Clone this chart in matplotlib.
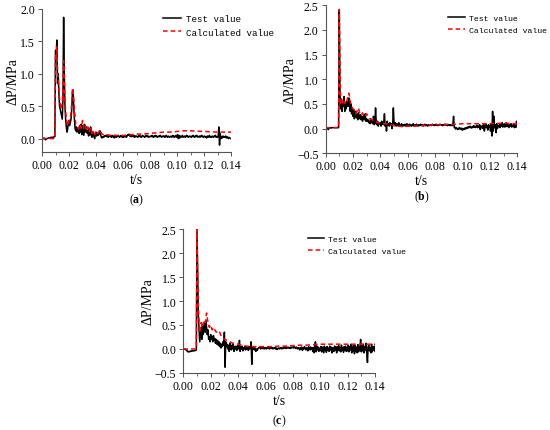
import numpy as np
import matplotlib
matplotlib.use("Agg")
import matplotlib.pyplot as plt

plt.rcParams["font.family"] = "Liberation Serif"
plt.rcParams["mathtext.fontset"] = "custom"
plt.rcParams["mathtext.rm"] = "Liberation Serif"
plt.rcParams["mathtext.bf"] = "Liberation Serif:bold"

# measured pressure difference, one value every 0.0005 s from 0 to 0.14 s
test_a = [
    0.00, 0.00, 0.00, 0.01, 0.00, -0.02, -0.01, 0.00, 0.00, 0.01, 0.01, 0.01, 0.01, 0.02, 0.02, 0.02, 0.02, 0.02, 0.03, 0.03,
    1.36, 1.30, 1.52, 0.85, 1.00, 0.70, 0.50, 0.45, 0.40, 0.35, 0.30, 0.60, 1.87, 1.00, 0.50, 0.30, 0.18, 0.10, 0.15, 0.25,
    0.28, 0.20, 0.25, 0.30, 0.45, 0.70, 0.75, 0.50, 0.30, 0.15, 0.12, 0.18, 0.10, 0.15, 0.12, 0.08, 0.20, 0.10, 0.22, 0.06,
    0.20, 0.12, 0.05, 0.22, 0.10, 0.15, 0.18, 0.08, 0.12, 0.04, 0.15, 0.06, 0.18, 0.05, 0.02, 0.08, 0.10, 0.03, 0.00, 0.06,
    0.10, 0.04, 0.07, 0.05, 0.06, 0.10, 0.12, 0.05, 0.02, 0.01, 0.03, 0.02, 0.04, 0.03, 0.05, 0.04, 0.03, 0.05, 0.02, 0.04,
    0.05, 0.03, 0.04, 0.02, 0.05, 0.03, 0.04, 0.01, 0.03, 0.04, 0.02, 0.04, 0.03, 0.05, 0.03, 0.02, 0.04, 0.05, 0.03, 0.02,
    0.03, 0.02, 0.04, 0.03, 0.05, 0.02, 0.04, 0.06, 0.05, 0.07, 0.04, 0.06, 0.03, 0.05, 0.04, 0.03, 0.05, 0.02, 0.04, 0.03,
    0.04, 0.03, 0.02, 0.04, 0.05, 0.03, 0.04, 0.02, 0.03, 0.05, 0.04, 0.03, 0.02, 0.04, 0.03, 0.05, 0.03, 0.04, 0.02, 0.03,
    0.03, 0.04, 0.03, 0.05, 0.03, 0.02, 0.04, 0.03, 0.05, 0.03, 0.04, 0.02, 0.03, 0.04, 0.03, 0.05, 0.04, 0.02, 0.03, 0.04,
    0.03, 0.04, 0.02, 0.03, 0.05, 0.03, 0.02, 0.04, 0.03, 0.02, 0.03, 0.04, 0.02, 0.03, 0.05, 0.03, 0.02, 0.04, 0.03, 0.05,
    0.02, 0.06, 0.00, 0.05, 0.01, 0.04, 0.02, 0.03, 0.05, 0.02, 0.03, 0.04, 0.02, 0.03, 0.05, 0.03, 0.04, 0.02, 0.03, 0.04,
    0.03, 0.02, 0.04, 0.03, 0.05, 0.03, 0.02, 0.04, 0.03, 0.05, 0.04, 0.02, 0.03, 0.04, 0.02, 0.03, 0.05, 0.03, 0.04, 0.02,
    0.03, 0.04, 0.02, 0.03, 0.01, 0.04, 0.02, 0.03, 0.05, 0.02, 0.03, 0.02, 0.04, 0.03, 0.02, 0.04, 0.03, 0.05, 0.02, 0.03,
    0.02, 0.04, 0.18, -0.10, 0.08, 0.00, 0.03, 0.01, 0.04, 0.02, 0.03, 0.02, 0.04, 0.01, 0.03, 0.02, 0.00, 0.02, 0.01, 0.00,
    0.00,
]

test_b = [
    0.02, 0.02, 0.01, 0.00, -0.02, 0.01, 0.02, 0.02, 0.01, 0.02, 0.02, 0.02, 0.02, 0.02, 0.02, 0.02, 0.02, 0.02, 0.02, 0.02,
    2.40, 0.80, 0.40, 0.60, 0.35, 0.55, 0.45, 0.65, 0.35, 0.50, 0.40, 0.55, 0.48, 0.45, 0.62, 0.55, 0.35, 0.50, 0.30, 0.40,
    0.25, 0.38, 0.20, 0.30, 0.35, 0.22, 0.30, 0.18, 0.32, 0.25, 0.20, 0.28, 0.18, 0.25, 0.15, 0.22, 0.28, 0.18, 0.30, 0.15,
    0.20, 0.15, 0.18, 0.12, 0.15, 0.10, 0.20, 0.12, 0.15, 0.10, 0.25, 0.08, 0.10, 0.42, 0.12, 0.08, 0.15, 0.05, 0.12, 0.10,
    0.12, 0.05, 0.15, 0.10, 0.08, 0.12, 0.30, 0.05, 0.10, -0.05, 0.15, 0.08, 0.10, 0.05, 0.12, 0.08, 0.10, 0.00, 0.08, 0.42,
    0.10, 0.08, 0.12, 0.05, 0.10, 0.06, 0.08, 0.12, 0.05, 0.08, 0.06, 0.10, 0.07, 0.05, 0.08, 0.06, 0.09, 0.05, 0.08, 0.10,
    0.06, 0.08, 0.05, 0.09, 0.07, 0.05, 0.08, 0.06, 0.10, 0.07, 0.05, 0.08, 0.06, 0.09, 0.07, 0.05, 0.08, 0.06, 0.07, 0.09,
    0.07, 0.06, 0.08, 0.05, 0.07, 0.09, 0.06, 0.08, 0.07, 0.05, 0.08, 0.06, 0.07, 0.08, 0.06, 0.07, 0.09, 0.07, 0.08, 0.06,
    0.08, 0.07, 0.09, 0.07, 0.06, 0.08, 0.07, 0.09, 0.08, 0.07, 0.08, 0.06, 0.08, 0.07, 0.09, 0.08, 0.07, 0.08, 0.06, 0.08,
    0.07, 0.08, 0.06, 0.08, 0.07, 0.06, 0.08, 0.25, 0.02, 0.03, -0.01, 0.02, 0.00, -0.02, 0.01, -0.01, 0.02, 0.00, -0.02, 0.01,
    -0.03, 0.00, -0.02, 0.01, -0.01, 0.02, 0.00, 0.03, 0.01, 0.04, 0.02, 0.05, 0.03, 0.01, 0.04, 0.02, 0.06, 0.03, 0.05, 0.02,
    0.04, 0.07, 0.02, 0.05, 0.03, 0.08, -0.02, 0.05, 0.02, 0.06, 0.00, 0.08, -0.05, 0.04, 0.10, 0.02, 0.06, -0.03, 0.08, 0.03,
    0.05, -0.05, 0.10, -0.15, 0.35, -0.05, 0.25, 0.02, 0.08, -0.08, 0.10, 0.00, 0.06, 0.04, 0.08, 0.02, 0.10, 0.05, 0.12, 0.03,
    0.06, 0.10, 0.03, 0.08, 0.12, 0.04, 0.10, 0.06, 0.02, 0.08, 0.05, 0.10, 0.03, 0.07, 0.04, 0.09, 0.02, 0.06, 0.03, 0.15,
    0.04,
]

test_c = [
    0.00, 0.00, 0.00, -0.01, -0.02, -0.03, -0.05, -0.06, -0.05, -0.06, -0.05, -0.04, -0.05, -0.04, -0.04, -0.03, -0.04, -0.03, -0.03, -0.02,
    2.45, 1.60, 0.70, 0.40, 0.15, 0.30, 0.45, 0.20, 0.50, 0.30, 0.40, 0.55, 0.35, 0.60, 0.45, 0.30, 0.40, 0.20, 0.25, 0.15,
    0.30, 0.20, 0.25, 0.15, 0.28, 0.18, 0.22, 0.12, 0.20, 0.10, 0.18, 0.08, 0.15, 0.05, 0.12, 0.02, 0.10, 0.05, 0.15, 0.08,
    0.35, -0.38, 0.15, 0.05, 0.10, 0.00, 0.08, -0.05, 0.12, 0.03, -0.02, 0.08, 0.00, 0.10, -0.05, 0.05, 0.00, 0.06, -0.03, 0.02,
    0.08, 0.00, 0.18, -0.05, 0.05, 0.00, 0.06, -0.04, 0.03, 0.00, 0.05, -0.02, 0.04, 0.00, 0.03, -0.03, 0.05, 0.00, 0.02, 0.15,
    -0.32, 0.05, 0.00, 0.03, -0.02, 0.02, -0.05, 0.00, -0.03, 0.01, 0.02, 0.04, 0.03, 0.00, 0.02, 0.05, 0.01, 0.03, 0.00, 0.02,
    0.03, 0.00, 0.02, 0.04, 0.01, 0.03, 0.00, 0.02, 0.04, 0.01, 0.03, 0.00, 0.02, 0.01, 0.03, 0.00, 0.02, -0.01, 0.01, 0.02,
    0.00, 0.02, 0.01, 0.03, 0.00, 0.02, 0.01, 0.03, 0.02, 0.04, 0.01, 0.03, 0.02, 0.04, 0.02, 0.03, 0.01, 0.04, 0.02, 0.03,
    0.04, 0.02, 0.05, 0.03, 0.01, 0.04, 0.02, 0.00, 0.03, 0.01, -0.02, 0.03, 0.00, 0.04, -0.03, 0.02, 0.00, 0.05, 0.01, -0.02,
    0.03, 0.00, -0.04, 0.05, 0.01, -0.02, 0.04, 0.00, 0.03, -0.05, 0.03, -0.08, 0.05, 0.15, -0.06, 0.06, -0.02, 0.04, -0.05, 0.02,
    -0.03, 0.05, -0.06, 0.04, 0.00, -0.08, 0.06, -0.02, 0.03, -0.07, 0.05, -0.03, 0.02, -0.05, 0.06, -0.02, 0.04, -0.08, 0.03, 0.00,
    -0.05, 0.06, -0.02, 0.04, -0.08, 0.05, -0.03, 0.07, -0.04, 0.02, -0.06, 0.08, -0.02, 0.03, -0.07, 0.05, -0.03, 0.06, -0.05, 0.02,
    -0.04, 0.08, -0.06, 0.05, -0.02, 0.10, -0.08, 0.06, -0.04, 0.08, -0.10, 0.07, -0.05, 0.04, -0.08, 0.09, -0.06, 0.05, -0.03, 0.20,
    -0.06, 0.08, -0.04, 0.10, -0.08, 0.05, -0.02, 0.12, -0.10, -0.28, 0.05, 0.08, -0.04, 0.03, -0.08, 0.10, -0.06, 0.04, -0.02, 0.06,
    -0.05,
]

# calculated curves as (t, dP) points
calc_a = [
    (0.0, 0.0), (0.0095, 0.0), (0.010, 1.30), (0.0105, 1.25), (0.011, 1.42), (0.0115, 1.00), (0.012, 0.90),
    (0.013, 0.60), (0.014, 0.45), (0.015, 0.55), (0.0155, 0.80), (0.016, 1.20), (0.0165, 0.90), (0.017, 0.55),
    (0.018, 0.30), (0.019, 0.20), (0.020, 0.28), (0.021, 0.30), (0.022, 0.55), (0.0225, 0.78), (0.023, 0.75),
    (0.024, 0.45), (0.025, 0.22), (0.026, 0.20), (0.027, 0.15), (0.028, 0.22), (0.029, 0.16), (0.030, 0.28),
    (0.031, 0.15), (0.032, 0.20), (0.033, 0.12), (0.034, 0.18), (0.035, 0.10), (0.036, 0.16), (0.037, 0.08),
    (0.038, 0.12), (0.039, 0.06), (0.040, 0.12), (0.041, 0.08), (0.042, 0.10), (0.043, 0.14), (0.044, 0.08),
    (0.046, 0.05), (0.048, 0.06), (0.050, 0.05), (0.052, 0.06), (0.055, 0.05), (0.058, 0.04), (0.060, 0.05),
    (0.063, 0.05), (0.066, 0.06), (0.070, 0.07), (0.075, 0.07), (0.080, 0.08), (0.085, 0.09), (0.090, 0.10),
    (0.095, 0.10), (0.100, 0.11), (0.105, 0.12), (0.110, 0.12), (0.120, 0.11), (0.130, 0.10), (0.140, 0.10),
]

calc_b = [
    (0.0, 0.02), (0.0095, 0.02), (0.010, 2.42), (0.0105, 1.20), (0.011, 0.50), (0.012, 0.58), (0.013, 0.48),
    (0.014, 0.55), (0.015, 0.50), (0.016, 0.62), (0.017, 0.72), (0.018, 0.55), (0.019, 0.45), (0.020, 0.40),
    (0.021, 0.38), (0.022, 0.30), (0.023, 0.35), (0.024, 0.42), (0.025, 0.30), (0.026, 0.28), (0.027, 0.32),
    (0.028, 0.24), (0.029, 0.26), (0.030, 0.30), (0.032, 0.20), (0.034, 0.18), (0.036, 0.15), (0.038, 0.12),
    (0.040, 0.12), (0.042, 0.10), (0.045, 0.10), (0.048, 0.08), (0.050, 0.06), (0.053, 0.05), (0.056, 0.04),
    (0.060, 0.05), (0.065, 0.05), (0.070, 0.06), (0.075, 0.07), (0.080, 0.08), (0.085, 0.08), (0.090, 0.09),
    (0.095, 0.09), (0.100, 0.10), (0.110, 0.10), (0.120, 0.10), (0.130, 0.11), (0.140, 0.10),
]

calc_c = [
    (0.0, 0.0), (0.009, 0.0), (0.0095, 0.0), (0.010, 2.50), (0.0105, 1.40), (0.011, 0.80), (0.012, 0.35),
    (0.013, 0.55), (0.014, 0.45), (0.015, 0.60), (0.016, 0.55), (0.017, 0.75), (0.018, 0.55), (0.019, 0.45),
    (0.020, 0.50), (0.021, 0.40), (0.022, 0.45), (0.024, 0.35), (0.026, 0.38), (0.028, 0.25), (0.030, 0.20),
    (0.032, 0.18), (0.034, 0.15), (0.036, 0.12), (0.038, 0.12), (0.040, 0.10), (0.043, 0.08), (0.046, 0.06),
    (0.050, 0.05), (0.055, 0.05), (0.060, 0.05), (0.065, 0.05), (0.070, 0.06), (0.075, 0.06), (0.080, 0.07),
    (0.085, 0.08), (0.090, 0.08), (0.095, 0.09), (0.100, 0.10), (0.110, 0.10), (0.120, 0.10), (0.130, 0.10),
    (0.140, 0.10),
]

xticks = [0.00, 0.02, 0.04, 0.06, 0.08, 0.10, 0.12, 0.14]
yticks_a = [0.0, 0.5, 1.0, 1.5, 2.0]
yticks_bc = [-0.5, 0.0, 0.5, 1.0, 1.5, 2.0, 2.5]

panels = [
    # rect, test, calc, ylim, yticks, tag, tag y (axes frac), legend anchor (fig coords), legend size
    ([0.0764, 0.646, 0.3436, 0.331], test_a, calc_a, (-0.2, 2.0), yticks_a, "a", -0.333, (0.286, 0.978), 6.6),
    ([0.592, 0.642, 0.3484, 0.3434], test_b, calc_b, (-0.5, 2.5), yticks_bc, "b", -0.292, (0.806, 0.976), 5.9),
    ([0.3333, 0.1323, 0.3485, 0.334], test_c, calc_c, (-0.5, 2.5), yticks_bc, "c", -0.331, (0.551, 0.464), 5.9),
]

fig = plt.figure(figsize=(5.5, 4.31), dpi=100)

for rect, test, calc, ylim, yticks, tag, tag_y, anchor, lsize in panels:
    ax = fig.add_axes(rect)
    t = np.linspace(0, 0.14, len(test))
    ct = [p[0] for p in calc]
    cv = [p[1] for p in calc]
    ax.plot(t, test, color="black", lw=1.1, label="Test value")
    ax.plot(ct, cv, color="red", lw=1.1, ls=(0, (3, 2)), label="Calculated value")
    ax.set_xlim(0, 0.14)
    ax.set_ylim(*ylim)
    ax.set_xticks(xticks)
    ax.set_xticklabels([f"{v:.2f}" for v in xticks])
    ax.set_xticks(np.arange(0.01, 0.14, 0.02), minor=True)
    ax.set_yticks(yticks)
    ax.set_yticklabels([f"{v:.1f}".replace("-", "\u2212") for v in yticks])
    for s in ["top", "right"]:
        ax.spines[s].set_visible(False)
    for s in ["left", "bottom"]:
        ax.spines[s].set_color("#555555")
        ax.spines[s].set_linewidth(0.8)
    ax.tick_params(direction="out", length=3, width=0.7, color="#555555", labelsize=8.5, pad=2)
    ax.tick_params(which="minor", direction="out", length=1.8, width=0.6, color="#555555")
    ax.set_xlabel("t/s", fontsize=10, labelpad=1.5)
    ax.set_ylabel("\u0394P/MPa", fontsize=10, labelpad=0.5)
    ax.text(0.5, tag_y, r"($\mathbf{" + tag + "}$)", transform=ax.transAxes,
            ha="center", va="center", fontsize=8.5)
    fig.legend(handles=ax.get_lines(), loc="upper left", bbox_to_anchor=anchor,
               frameon=False, prop={"family": "Liberation Mono", "size": lsize},
               handlelength=2.0, handletextpad=0.5, labelspacing=0.5, borderpad=0.1)

fig.savefig("out.png", dpi=100)
